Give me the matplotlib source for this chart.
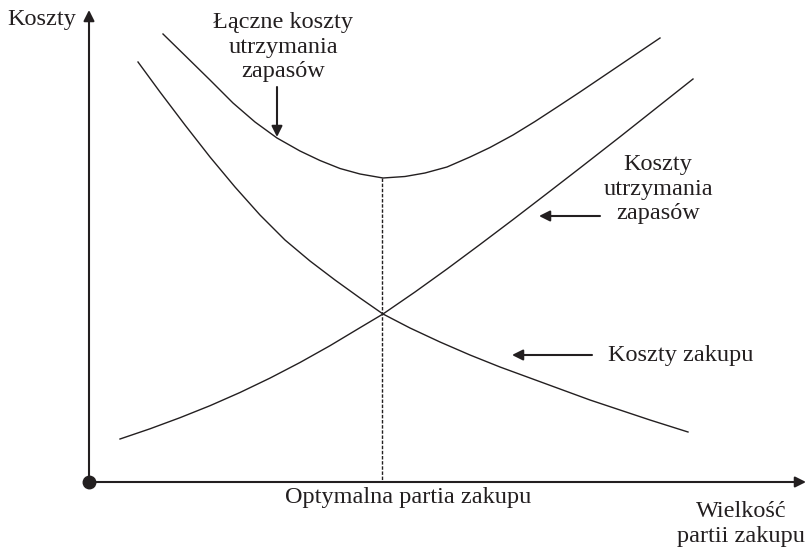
import matplotlib.pyplot as plt

plt.rcParams['font.family'] = ['Liberation Serif', 'DejaVu Serif']

INK = '#231f20'

# wielkość partii (x) i koszty (y) odczytane w pikselach wykresu
purchase_x = [138, 160, 185, 210, 235, 260, 285, 310, 335, 360, 383, 410, 440, 470, 500,
              530, 560, 590, 620, 650, 688]
purchase_y = [62, 92, 125, 157, 187, 215, 240, 261, 280, 298, 314, 328, 342, 355, 367,
              378, 389, 400, 410, 420, 432]

holding_x = [120, 150, 180, 210, 240, 270, 300, 330, 360, 383, 415, 447, 480, 513, 547,
             580, 620, 657, 693]
holding_y = [439, 428.8, 417.7, 405.7, 392.5, 378.1, 362.5, 345.7, 327.7, 314, 292, 269,
             244.5, 219.6, 193.5, 168, 136.8, 107.5, 79]

total_x = [163, 185, 210, 233, 255, 277, 300, 320, 340, 360, 383, 405, 425, 447, 470,
           490, 513, 535, 558, 580, 620, 660]
total_y = [34, 55.5, 80, 103, 122, 138, 151, 160.5, 168.5, 174, 178, 176.5, 173, 167, 157,
           147.5, 135, 121.5, 106.5, 92, 65, 38]

optimum_x = 382
optimum_y = 178
origin = (89, 482)

fig = plt.figure(figsize=(8.06, 5.5), dpi=100)
ax = fig.add_axes([0, 0, 1, 1])
ax.set_xlim(0, 806)
ax.set_ylim(550, 0)
ax.axis('off')

arrow = dict(arrowstyle='-|>', color=INK, lw=1.5, mutation_scale=16,
             shrinkA=0, shrinkB=0)

# osie
ax.annotate('', xy=(origin[0], 10), xytext=origin, arrowprops=arrow)
ax.annotate('', xy=(806, origin[1]), xytext=origin, arrowprops=arrow)
ax.plot(*origin, 'o', color=INK, ms=9)

# krzywe kosztów
ax.plot(purchase_x, purchase_y, color=INK, lw=1.0)
ax.plot(holding_x, holding_y, color=INK, lw=1.0)
ax.plot(total_x, total_y, color=INK, lw=1.0)
ax.plot([optimum_x, optimum_x], [optimum_y, origin[1]], color=INK, lw=1.0,
        linestyle=(0, (2.5, 1.2)))

# strzałki do opisów
ax.annotate('', xy=(277, 137), xytext=(277, 87), arrowprops=arrow)
ax.annotate('', xy=(539, 216), xytext=(600, 216), arrowprops=arrow)
ax.annotate('', xy=(512, 355), xytext=(592, 355), arrowprops=arrow)

fs = 17.5
ax.text(7, 19, 'Koszty', fontsize=fs, color=INK, ha='left', va='center')
ax.text(283, 47, 'Łączne koszty\nutrzymania\nzapasów', fontsize=fs, color=INK,
        ha='center', va='center', linespacing=1.2)
ax.text(658, 189, 'Koszty\nutrzymania\nzapasów', fontsize=fs, color=INK,
        ha='center', va='center', linespacing=1.2)
ax.text(608, 355, 'Koszty zakupu', fontsize=fs, color=INK, ha='left', va='center')
ax.text(408, 497, 'Optymalna partia zakupu', fontsize=fs, color=INK,
        ha='center', va='center')
ax.text(741, 524, 'Wielkość\npartii zakupu', fontsize=fs, color=INK,
        ha='center', va='center', linespacing=1.2)

fig.savefig('out.png', dpi=100)
